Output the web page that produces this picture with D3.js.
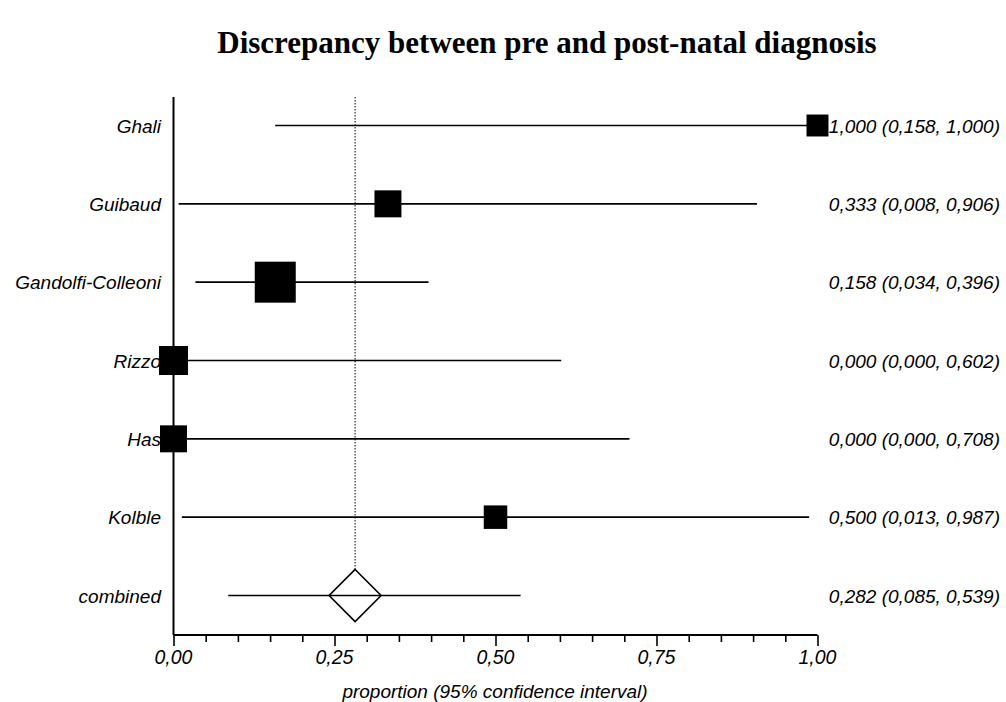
<!DOCTYPE html>
<html>
<head>
<meta charset="utf-8">
<script src="https://cdn.jsdelivr.net/npm/d3@7/dist/d3.min.js"></script>
<style>
  html, body { margin: 0; padding: 0; background: #fff; }
  svg { display: block; }
  .lbl { font-family: "Liberation Sans", Arial, sans-serif; font-style: italic; fill: #000; }
  .title { font-family: "Liberation Serif", "Times New Roman", serif; font-weight: bold; fill: #000; }
</style>
</head>
<body>
<svg id="chart" width="1006" height="702"></svg>
<script>
// Study names, point estimates and 95% confidence limits
const studies   = ["Ghali", "Guibaud", "Gandolfi-Colleoni", "Rizzo", "Has", "Kolble"];
const estimates = [1.000, 0.333, 0.158, 0.000, 0.000, 0.500];
const lowerCI   = [0.158, 0.008, 0.034, 0.000, 0.000, 0.013];
const upperCI   = [1.000, 0.906, 0.396, 0.602, 0.708, 0.987];
// Relative study weights (%), shown as marker area
const weights   = [9.6, 14.5, 33.5, 16.8, 14.5, 11.0];

// Pooled result
const pooledLabel = "combined";
const pooledEstimate = 0.282;
const pooledLower = 0.085;
const pooledUpper = 0.539;

// Axis ticks
const tickValues = d3.range(0, 21).map(i => i * 0.05);
const tickLabels = ["0,00", "0,25", "0,50", "0,75", "1,00"];
const majorTicks = [0, 0.25, 0.5, 0.75, 1];

const titleText = "Discrepancy between pre and post-natal diagnosis";
const xAxisTitle = "proportion (95% confidence interval)";

const svg = d3.select("#chart");

const x = d3.scaleLinear().domain([0, 1]).range([173.5, 817.5]);
const rows = studies.concat([pooledLabel]);
const y = d3.scalePoint().domain(rows).range([125.5, 595.5]);
const side = d3.scaleSqrt().domain([0, d3.max(weights)]).range([0, 41]);

const fmt = v => d3.format(".3f")(v).replace(".", ",");
const axisY = 635;
const topY = 97;

// Title
svg.append("text").attr("class", "title")
  .attr("x", 547).attr("y", 53)
  .attr("text-anchor", "middle")
  .attr("font-size", 31)
  .text(titleText);

// Reference line at the pooled estimate
svg.append("line")
  .attr("x1", x(pooledEstimate)).attr("x2", x(pooledEstimate))
  .attr("y1", topY).attr("y2", y(pooledLabel) - 26)
  .attr("stroke", "#000").attr("stroke-width", 1)
  .attr("stroke-dasharray", "1.5,1.5");

// Axes
svg.append("line")
  .attr("x1", x(0)).attr("x2", x(0))
  .attr("y1", topY).attr("y2", axisY)
  .attr("stroke", "#000").attr("stroke-width", 2);

const xAxis = d3.axisBottom(x)
  .tickValues(tickValues)
  .tickSize(7)
  .tickFormat("");
const gx = svg.append("g").attr("transform", `translate(0,${axisY})`).call(xAxis);
gx.select(".domain").attr("stroke-width", 2).attr("d", `M${x(0)},0H${x(1)}`);
gx.selectAll(".tick line").attr("stroke-width", 1.6)
  .attr("y2", d => majorTicks.some(m => Math.abs(m - d) < 1e-9) ? 11 : 7);

svg.selectAll(".ticklabel").data(majorTicks).join("text")
  .attr("class", "lbl ticklabel")
  .attr("x", d => x(d)).attr("y", 664)
  .attr("text-anchor", "middle")
  .attr("font-size", 19.5)
  .text((d, i) => tickLabels[i]);

svg.append("text").attr("class", "lbl")
  .attr("x", 495).attr("y", 698)
  .attr("text-anchor", "middle")
  .attr("font-size", 19)
  .text(xAxisTitle);

// Confidence interval lines
svg.selectAll(".ci").data(studies).join("line")
  .attr("class", "ci")
  .attr("x1", (d, i) => x(lowerCI[i])).attr("x2", (d, i) => x(upperCI[i]))
  .attr("y1", d => y(d)).attr("y2", d => y(d))
  .attr("stroke", "#000").attr("stroke-width", 1.6);

svg.append("line")
  .attr("x1", x(pooledLower)).attr("x2", x(pooledUpper))
  .attr("y1", y(pooledLabel)).attr("y2", y(pooledLabel))
  .attr("stroke", "#000").attr("stroke-width", 1.6);

// Study markers
svg.selectAll(".box").data(studies).join("rect")
  .attr("class", "box")
  .attr("x", (d, i) => x(estimates[i]) - side(weights[i]) / 2)
  .attr("y", (d, i) => y(d) - side(weights[i]) / 2)
  .attr("width", (d, i) => side(weights[i]))
  .attr("height", (d, i) => side(weights[i]))
  .attr("fill", "#000");

// Pooled diamond
const cx = x(pooledEstimate), cy = y(pooledLabel), h = 26;
svg.append("path")
  .attr("d", `M${cx},${cy - h}L${cx + h},${cy}L${cx},${cy + h}L${cx - h},${cy}Z`)
  .attr("fill", "none").attr("stroke", "#000").attr("stroke-width", 1.6);

// Row labels
svg.selectAll(".rowlabel").data(rows).join("text")
  .attr("class", "lbl rowlabel")
  .attr("x", 161).attr("y", d => y(d) + 7)
  .attr("text-anchor", "end")
  .attr("font-size", 19)
  .text(d => d);

// Estimate annotations
const notes = studies.map((d, i) => `${fmt(estimates[i])} (${fmt(lowerCI[i])}, ${fmt(upperCI[i])})`)
  .concat([`${fmt(pooledEstimate)} (${fmt(pooledLower)}, ${fmt(pooledUpper)})`]);
svg.selectAll(".note").data(rows).join("text")
  .attr("class", "lbl note")
  .attr("x", 1000).attr("y", d => y(d) + 7)
  .attr("text-anchor", "end")
  .attr("font-size", 19)
  .text((d, i) => notes[i]);
</script>
</body>
</html>
